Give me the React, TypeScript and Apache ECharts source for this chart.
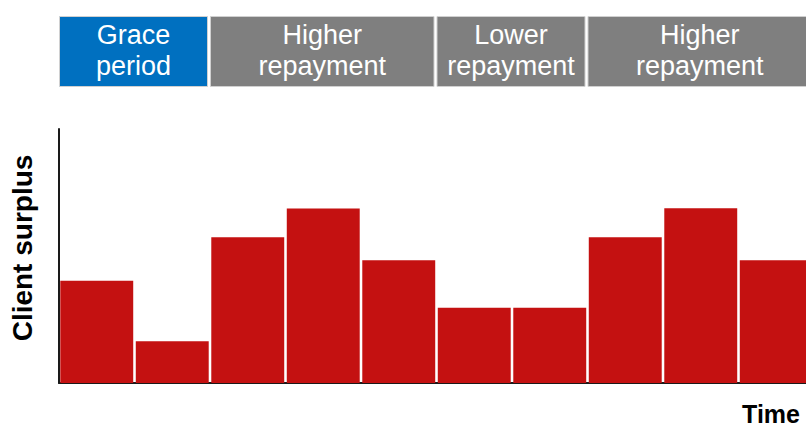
import React, { useEffect, useRef } from "react";
import * as echarts from "echarts";

// ---- data ----
const periods = ["P1", "P2", "P3", "P4", "P5", "P6", "P7", "P8", "P9", "P10"];
const clientSurplus = [40.3, 16.4, 57.4, 68.7, 48.3, 29.6, 29.6, 57.4, 68.8, 48.3];

const phaseLabels = ["Grace\nperiod", "Higher\nrepayment", "Lower\nrepayment", "Higher\nrepayment"];
const phaseStart = [0, 2, 5, 7];
const phaseEnd = [1, 4, 6, 9];
const phaseKind = ["grace", "repay", "repay", "repay"];

const yAxisTitle = "Client surplus";
const xAxisTitle = "Time";

// ---- styles ----
const FONT = "'Liberation Sans', Arial, Helvetica, sans-serif";
const BAR_COLOR = "#C41111";
const PHASE_COLORS: Record<string, string> = { grace: "#0070C0", repay: "#7F7F7F" };

export default function App() {
  const ref = useRef<HTMLDivElement>(null);

  useEffect(() => {
    if (!ref.current) return;
    const chart = echarts.init(ref.current, null, { renderer: "svg" });

    const phaseData = phaseStart.map((s, i) => [s, 0, phaseEnd[i]]);

    chart.setOption({
      animation: false,
      backgroundColor: "#ffffff",
      grid: { left: 59, top: 129, right: 0, bottom: 43 },
      xAxis: {
        type: "category",
        data: periods,
        boundaryGap: true,
        axisLine: { show: true, lineStyle: { color: "#1a1a1a", width: 2 } },
        axisTick: { show: false },
        axisLabel: { show: false },
        name: xAxisTitle,
        nameLocation: "end",
        nameGap: -14,
        nameTextStyle: {
          fontFamily: FONT,
          fontSize: 25,
          lineHeight: 25,
          fontWeight: "bold",
          color: "#000",
          align: "right",
          verticalAlign: "top",
          padding: [18, 0, 0, 0],
        },
      },
      yAxis: {
        type: "value",
        min: 0,
        max: 100,
        axisLine: { show: true, lineStyle: { color: "#1a1a1a", width: 2 } },
        axisTick: { show: false },
        axisLabel: { show: false },
        splitLine: { show: false },
        name: yAxisTitle,
        nameLocation: "middle",
        nameRotate: 90,
        nameGap: 23,
        nameTextStyle: {
          fontFamily: FONT,
          fontSize: 28,
          fontWeight: "bold",
          color: "#000",
          padding: [0, 0, 0, 16],
        },
      },
      series: [
        {
          type: "bar",
          data: clientSurplus,
          barCategoryGap: "3.4%",
          itemStyle: { color: BAR_COLOR },
          z: 1,
        },
        {
          type: "custom",
          data: phaseData,
          encode: { x: 0, y: 1 },
          clip: false,
          renderItem: (params: any, api: any) => {
            const s = api.value(0);
            const e = api.value(2);
            const bw = api.size([1, 0])[0];
            const x0 = api.coord([s, 0])[0] - bw / 2 + 0.5;
            const x1 = api.coord([e, 0])[0] + bw / 2 - 2.5;
            const idx = params.dataIndex;
            const y0 = 16.5;
            const h = 70;
            return {
              type: "group",
              children: [
                {
                  type: "rect",
                  shape: { x: x0, y: y0, width: x1 - x0, height: h },
                  style: {
                    fill: PHASE_COLORS[phaseKind[idx]],
                    stroke: "#d0d0d0",
                    lineWidth: 1,
                  },
                },
                {
                  type: "text",
                  x: (x0 + x1) / 2,
                  y: y0 + h / 2 - 1,
                  style: {
                    text: phaseLabels[idx],
                    fill: "#ffffff",
                    fontFamily: FONT,
                    fontSize: 27,
                    lineHeight: 31,
                    align: "center",
                    verticalAlign: "middle",
                  },
                },
              ],
            };
          },
          z: 3,
        },
      ],
    });

    return () => chart.dispose();
  }, []);

  return (
    <div
      style={{
        position: "absolute",
        left: 0,
        top: 0,
        width: 806,
        height: 426,
        overflow: "hidden",
      }}
    >
      <div ref={ref} style={{ width: 814, height: 426 }} />
    </div>
  );
}
